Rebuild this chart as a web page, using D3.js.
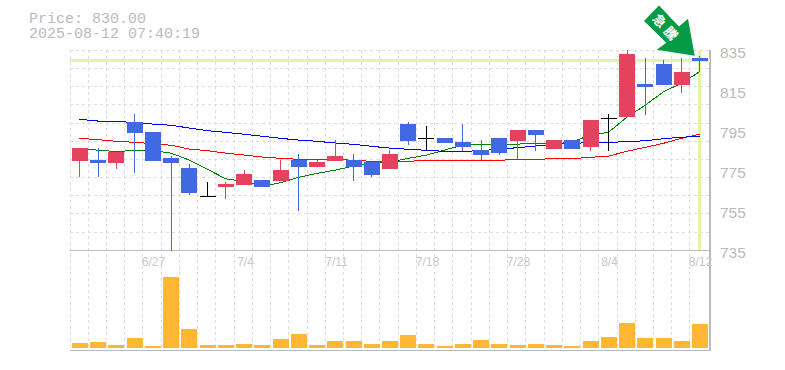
<!DOCTYPE html>
<html>
<head>
<meta charset="utf-8">
<script src="https://cdn.jsdelivr.net/npm/d3@7"></script>
<style>
  html, body { margin: 0; padding: 0; background: #fff; }
  svg { display: block; }
</style>
</head>
<body>
<div id="chart"></div>
<script>
// daily prices
var dates = ['6/23','6/24','6/25','6/26','6/27','6/30','7/1','7/2','7/3','7/4','7/7','7/8','7/9','7/10','7/11','7/14','7/15','7/16','7/17','7/18','7/22','7/23','7/24','7/25','7/28','7/29','7/30','7/31','8/1','8/4','8/5','8/6','8/7','8/8','8/12'];
var opens  = [780,780.5,779,799.5,794.5,781.5,776.5,762.5,767,768,770.5,770,780.5,777,780,780.5,779.5,776,798.5,791.5,791.5,789.5,785.5,791.5,790,795.5,786,790.5,787,801.5,802,818.5,828.5,818,831.5];
var closes = [786.5,779,784.5,794,780,779,764,762.5,768.5,773.5,767,775.5,777,779.5,782.5,777,773,783.5,790,791.5,789,787,783,784,795.5,793,790.5,786,800.5,801.5,833.5,817,818,824.5,830];
var highs  = [786.5,786.5,784.5,803.5,794.5,782.5,778.5,769.5,769.5,775.5,770.5,780.5,783.5,780.5,790.5,783.5,779.5,785.5,799.5,797.5,791.5,798.5,790.5,791.5,795.5,795.5,790.5,790.5,800.5,803.5,835.5,831.5,830.5,831.5,832.5];
var lows   = [772,772,776,774,780,735,763,762.5,761,768,767,770,755,777,780,770,772,776,788,785,789,785,780.5,783,781,785,786,786,785,785,802,803,818,814,824.5];

// moving averages
var maGreen = [785.7,785.3,784.5,785.2,785.2,783.7,780.3,775.7,771,769.5,767.3,769,771.7,773.7,775.3,777.3,778.7,779.2,781.2,782.8,785.3,787.8,788.2,787.8,788.3,788.7,788.3,789.5,792.8,794.2,802,807.8,814.5,818.7,824.5];
var maRed   = [791.2,790.5,789.7,789.2,788.5,787.7,785.8,785,783.8,782.8,781.8,781.2,780.7,780.7,780.7,780.2,779.7,779.7,779.7,780.2,780.2,780.2,780.2,780.2,780.7,780.7,781,781,781.7,782.3,784.8,786.7,788.7,791.2,793.2];
var maBlue  = [800.7,799.8,799.5,799.2,798.3,797.7,796.3,795,794.2,793.2,792.2,791.2,790.3,789.7,788.8,788.2,787.2,786.3,785.7,785.2,784.7,784.7,785,785.8,786.5,787.3,788.3,788.7,789,789.2,789.5,790,791,791.7,792.3];

var volumes = [500,600,300,1000,200,7100,1900,300,300,400,300,900,1400,300,700,700,400,700,1300,400,200,400,800,400,300,400,300,200,700,1100,2500,1000,1000,700,2400];

var priceTicks = [835,815,795,775,755,735];
var dateTicks = ['6/27','7/4','7/11','7/18','7/28','8/4','8/12'];
var lastPrice = 830;
var priceTitle = 'Price: 830.00';
var timeTitle = '2025-08-12 07:40:19';
var arrowLabel = '急騰';

var svgWidth = 785;
var svgHeight = 370;

var svg = d3.select('#chart')
  .append('svg')
  .attr('width', svgWidth)
  .attr('height', svgHeight);

// scales
var x = d3.scaleBand().domain(dates).range([70.88, 709.11]);
var y = d3.scaleLinear().domain([735, 835]).range([250.7, 50.7]);
var yVol = d3.scaleLinear().domain([0, 7100]).range([348, 277]);

var center = function(d) { return x(d) + x.bandwidth() / 2; };
var cx = function(d) { return Math.floor(center(d)) + 0.5; };
var py = function(v) { return Math.round(y(v)); };
var barWidth = 16;
var barLeft = function(d) { return Math.round(center(d) - barWidth / 2); };

var grey = '#bbbbbb';
var up = '#e4425f';
var down = '#4169e1';

// grid
var grid = svg.append('g')
  .attr('stroke', '#dddddd')
  .attr('stroke-dasharray', '3,3')
  .attr('shape-rendering', 'crispEdges');

grid.selectAll('.vgrid')
  .data(dates)
  .enter()
  .append('line')
  .attr('x1', d => Math.floor(x(d) - 0.88) + 0.5)
  .attr('x2', d => Math.floor(x(d) - 0.88) + 0.5)
  .attr('y1', 50)
  .attr('y2', 350);

grid.selectAll('.hgrid')
  .data(d3.range(0, 11))
  .enter()
  .append('line')
  .attr('x1', 70)
  .attr('x2', 710)
  .attr('y1', i => Math.floor(y(835 - i * 100 / 11) - 0.4) + 0.5)
  .attr('y2', i => Math.floor(y(835 - i * 100 / 11) - 0.4) + 0.5);

// frame
var frame = svg.append('g')
  .attr('stroke', grey)
  .attr('stroke-width', 1.5)
  .attr('shape-rendering', 'crispEdges');
frame.append('line').attr('x1', 70).attr('x2', 710).attr('y1', 250.5).attr('y2', 250.5);
frame.append('line').attr('x1', 70).attr('x2', 710).attr('y1', 350.5).attr('y2', 350.5);
frame.append('line').attr('x1', 710).attr('x2', 710).attr('y1', 50).attr('y2', 351);

// current price marker
var marker = svg.append('g').attr('fill', '#e3f4a8');
marker.append('rect')
  .attr('x', 70)
  .attr('width', 640)
  .attr('y', py(lastPrice) - 2)
  .attr('height', 3);
marker.append('rect')
  .attr('x', cx(dates[dates.length - 1]) - 1.5)
  .attr('width', 3)
  .attr('y', 51)
  .attr('height', 199);

// moving averages go under the candles
var maLine = d3.line()
  .x((d, i) => cx(dates[i]))
  .y(d => y(d));

[[maGreen, '#008000'], [maRed, '#ff0000'], [maBlue, '#0000ff']].forEach(function(s) {
  svg.append('path')
    .attr('d', maLine(s[0]))
    .attr('fill', 'none')
    .attr('stroke', s[1])
    .attr('stroke-width', 1)
    .attr('shape-rendering', 'crispEdges');
});

// candles
var candleColor = function(i) {
  if (closes[i] > opens[i]) return up;
  if (closes[i] < opens[i]) return down;
  return '#000000';
};

var candles = svg.append('g').attr('shape-rendering', 'crispEdges');

candles.selectAll('.wick')
  .data(dates)
  .enter()
  .append('line')
  .attr('x1', d => cx(d))
  .attr('x2', d => cx(d))
  .attr('y1', (d, i) => py(highs[i]))
  .attr('y2', (d, i) => py(lows[i]))
  .attr('stroke', (d, i) => candleColor(i));

candles.selectAll('.body')
  .data(dates)
  .enter()
  .append('rect')
  .attr('x', d => barLeft(d))
  .attr('width', barWidth)
  .attr('y', (d, i) => py(Math.max(opens[i], closes[i])))
  .attr('height', (d, i) => Math.max(1, py(Math.min(opens[i], closes[i])) - py(Math.max(opens[i], closes[i]))))
  .attr('fill', (d, i) => candleColor(i));

// volume
svg.append('g')
  .attr('shape-rendering', 'crispEdges')
  .selectAll('rect')
  .data(volumes)
  .enter()
  .append('rect')
  .attr('x', (d, i) => barLeft(dates[i]))
  .attr('width', barWidth)
  .attr('y', d => yVol(d))
  .attr('height', d => yVol(0) - yVol(d))
  .attr('fill', '#ffb733');

// price labels
svg.selectAll('.priceLabel')
  .data(priceTicks)
  .enter()
  .append('text')
  .attr('x', 720)
  .attr('y', d => y(d) + 7.5)
  .attr('font-family', '"Liberation Sans", sans-serif')
  .attr('font-size', 15.5)
  .attr('fill', grey)
  .text(d => d);

// date labels
svg.selectAll('.dateLabel')
  .data(dateTicks)
  .enter()
  .append('text')
  .attr('x', d => cx(d) + 1)
  .attr('y', 266)
  .attr('text-anchor', 'middle')
  .attr('font-family', '"Liberation Sans", sans-serif')
  .attr('font-size', 12)
  .attr('fill', '#c8c8c8')
  .text(d => d);

// title
svg.append('text')
  .attr('x', 29)
  .attr('y', 23)
  .attr('font-family', '"Liberation Mono", monospace')
  .attr('font-size', 15)
  .attr('fill', grey)
  .text(priceTitle);

svg.append('text')
  .attr('x', 29)
  .attr('y', 38)
  .attr('font-family', '"Liberation Mono", monospace')
  .attr('font-size', 15)
  .attr('fill', grey)
  .text(timeTitle);

// arrow pointing at the last candle
var lastDate = dates[dates.length - 1];
var arrow = svg.append('g')
  .attr('transform', `translate(${cx(lastDate) - 4.8}, ${y(highs[highs.length - 1])})`);

arrow.append('path')
  .attr('d', 'M-35.7,-50.3 L-50.7,-34.6 L-28.4,-13 L-38,-6 L0,0 L-6.7,-37 L-15.7,-29.3 Z')
  .attr('fill', '#059a45');

arrow.append('text')
  .attr('transform', 'translate(-29.5,-28.5) rotate(48)')
  .attr('text-anchor', 'middle')
  .attr('dx', 2)
  .attr('dy', '0.36em')
  .attr('letter-spacing', 4)
  .attr('font-family', '"Noto Sans CJK JP", sans-serif')
  .attr('font-weight', 'bold')
  .attr('font-size', 13)
  .attr('fill', '#ffffff')
  .text(arrowLabel);
</script>
</body>
</html>
